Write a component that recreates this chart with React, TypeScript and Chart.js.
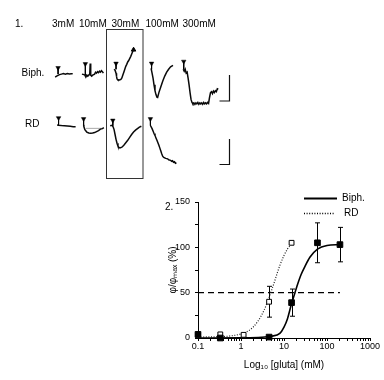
import React, { useEffect, useRef } from 'react';
import { Chart, registerables } from 'chart.js';
Chart.register(...registerables);

const FONT = "'Liberation Sans', Arial, Helvetica, sans-serif";

// ---------- Panel 2: dose-response ----------
const concBiph = [0.1, 0.33, 4.5, 15, 60, 200];
const respBiph = [4, 0, 1, 39, 105, 103];
const errBiph = [0, 0, 0, 15, 22, 19];

const concRD = [0.1, 0.33, 1.15, 4.5, 15];
const respRD = [3, 4, 3.5, 40, 105];
const errRD = [0, 0, 0, 17, 0];

const fitBiphX = [0.1, 1, 3, 5, 8, 10, 12, 15, 18, 20, 25, 30, 40, 60, 100, 200];
const fitBiphY = [0, 0.2, 0.8, 2, 5, 12, 21, 38, 50, 57, 70, 78, 89, 98, 102, 103];

const fitRDX = [0.1, 0.3, 0.5, 1, 1.5, 2, 3, 4, 5, 6, 7, 8, 10, 12, 15];
const fitRDY = [1, 1.5, 2, 4.5, 8, 13, 25, 38, 51, 62, 72, 80, 91, 98, 104];

const halfLevel = 50;
const halfRange = [0.1, 200];

const xDecades = [0.1, 1, 10, 100, 1000];
const yMin = 0;
const yMax = 150;
const yStep = 25;
const yLabelStep = 50;

const seriesNames = ['Biph.', 'RD'];

// ---------- Panel 1: traces ----------
const concLabels = ['3mM', '10mM', '30mM', '100mM', '300mM'];
const rowLabels = ['Biph.', 'RD'];

// [time offset, deflection (up = positive)]
const biph3mM = [[0.5,-4],[2,-3],[4,-2],[5,-1.5],[7,-1],[9,-0.5],[11,-1],[13,-0.3],[15,-0.8],[17,-0.5],[18.5,-0.7]];
const biph10mM = [[0,-1],[2,-1.5],[3,-2],[4,-4],[5,-2],[6,-3],[7,-2],[8,-1],[8.5,10],[9,-2],[10,-3],[11,-2],[13,-1],[14,1],[15,0],[16,1.5],[17,0.5],[18,2],[19,1],[20,2.5],[21,1.5],[22,0]];
const biph30mM = [[1,4],[2,3],[3,0],[3.5,-3],[4,-6],[5,-7],[6.5,-7],[8,-6.5],[9,-5],[10,-2],[11,1],[12,4],[13,7],[14,9],[15,11.5],[16,13],[17,15],[18,17],[19,19.5],[20,22],[21,24]];
const biph100mM = [[1,5],[2,0],[3,-5],[4,-12],[5,-18],[6,-22],[7,-24.7],[7.7,-25],[9,-20],[11,-14],[13,-8],[15,-3],[17,1],[19,4],[21,6.5],[23.5,8]];
const biph300mM = [[1,4],[2,2],[3,4],[4,0],[5,1],[6,-5],[7,-12],[8,-20],[9,-27],[10,-30],[11,-31.5],[12,-30.5],[13,-32],[14,-30.5],[15,-31.5],[16,-30],[17,-32],[18,-30.5],[19,-31.5],[20,-30.5],[21,-32],[22,-30],[23,-31.5],[24,-30.5],[25,-31.5],[26,-30],[27,-31],[28,-25],[29,-20],[30,-19],[31,-21],[32,-18.5],[33,-20],[34,-18],[35,-19],[36,-16],[37,-16.5]];
const rd3mM = [[2.5,0.7],[4,0.5],[7,0.2],[10,0],[13,-0.3],[16,-0.6],[19,-1],[21.5,-1]];
const rd10mM = [[1.7,1],[2,-1],[3,-4],[5,-6.5],[7,-7.5],[9,-7.7],[11,-7.5],[13,-7],[15,-6],[17,-5],[19,-3.5],[21,-3],[22.5,-2]];
const rd10mMBase = [[4,-2.7],[21,-2.7]];
const rd30mM = [[-3,0],[-1,0.5],[0,-1],[1,-4],[2,-9],[3,-14],[4,-18],[5,-21],[6,-22.3],[7,-22.7],[9,-22],[11,-20],[13,-17.5],[15,-15],[17,-12],[19,-9],[21,-6.5],[23,-4.5],[25,-3],[27,-1.5],[29,-0.5]];
const rd100mM = [[0.5,0],[1,-1],[2,-3],[3,-5.5],[4,-8],[5,-10],[6,-12.5],[7,-15],[8,-17.5],[9,-20],[10,-23],[11,-26],[12,-29],[13,-31.5],[14,-32.5],[16,-33.5],[18,-34],[19,-35],[21,-35.5],[22,-36.5],[23,-36],[24,-37.5],[25,-37],[26,-38.5],[27,-38]];

// [column, time, top deflection, bottom deflection]
const biphMarks = [[0,3.5,5.5,-1],[1,3.5,9.5,-2],[2,3,10,4],[3,1.5,10,4],[4,1.5,12,4]];
const rdMarks = [[0,4,8,0.7],[1,1.7,7,1],[2,-0.3,5.5,0],[3,0.3,7,0]];

// layout (panel 1)
const colX = [51, 79, 111, 149, 182];
const rowY = [70, 124];
const labelLeft = [52, 79, 111.5, 145.5, 182.5];

const isDecade = (v: number) => Math.abs(Math.log10(v) - Math.round(Math.log10(v))) < 1e-9;

function buildXTicks() {
  const t: { value: number }[] = [];
  for (let d = 0; d < xDecades.length - 1; d++) {
    for (let m = 1; m <= 9; m++) t.push({ value: +(xDecades[d] * m).toPrecision(6) });
  }
  t.push({ value: xDecades[xDecades.length - 1] });
  return t;
}

const errorBarPlugin = {
  id: 'errorBars',
  beforeDatasetsDraw(chart: any) {
    const { ctx } = chart;
    const xs = chart.scales.x, ys = chart.scales.y;
    const sets = [[concBiph, respBiph, errBiph], [concRD, respRD, errRD]];
    ctx.save();
    ctx.strokeStyle = '#000';
    ctx.lineWidth = 1;
    sets.forEach(([c, r, e]) => {
      c.forEach((cx: number, i: number) => {
        if (!e[i]) return;
        const x = Math.round(xs.getPixelForValue(cx)) + 0.5;
        const y1 = ys.getPixelForValue(r[i] + e[i]);
        const y2 = ys.getPixelForValue(r[i] - e[i]);
        ctx.beginPath();
        ctx.moveTo(x, y1); ctx.lineTo(x, y2);
        ctx.moveTo(x - 2.5, y1); ctx.lineTo(x + 2.5, y1);
        ctx.moveTo(x - 2.5, y2); ctx.lineTo(x + 2.5, y2);
        ctx.stroke();
      });
    });
    ctx.restore();
  },
};

const legendPlugin = {
  id: 'customLegend',
  afterDraw(chart: any) {
    const { ctx, chartArea: ca } = chart;
    ctx.save();
    ctx.font = `10px ${FONT}`;
    ctx.fillStyle = '#000';
    ctx.textBaseline = 'middle';
    ctx.textAlign = 'left';
    // Biph.
    ctx.strokeStyle = '#000';
    ctx.lineWidth = 2;
    ctx.setLineDash([]);
    ctx.beginPath();
    ctx.moveTo(ca.right - 66, ca.top - 3.5);
    ctx.lineTo(ca.right - 33, ca.top - 3.5);
    ctx.stroke();
    ctx.fillText(seriesNames[0], ca.right - 28, ca.top - 4);
    // RD
    ctx.lineWidth = 1.3;
    ctx.setLineDash([1, 1.6]);
    ctx.beginPath();
    ctx.moveTo(ca.right - 66, ca.top + 11.5);
    ctx.lineTo(ca.right - 35, ca.top + 11.5);
    ctx.stroke();
    ctx.setLineDash([]);
    ctx.fillText(seriesNames[1], ca.right - 26, ca.top + 11);
    // panel label
    ctx.fillText('2.', ca.left - 33, ca.top + 5);
    ctx.restore();
  },
};

const panel1Plugin = {
  id: 'panel1Decor',
  afterDraw(chart: any) {
    const { ctx } = chart;
    ctx.save();
    ctx.font = `10px ${FONT}`;
    ctx.fillStyle = '#000';
    ctx.textBaseline = 'middle';
    ctx.textAlign = 'left';
    ctx.fillText('1.', 15, 24);
    concLabels.forEach((l, i) => ctx.fillText(l, labelLeft[i], 24));
    ctx.fillText(rowLabels[0], 21.5, 73);
    ctx.fillText(rowLabels[1], 25, 124);
    // box around 30mM
    ctx.strokeStyle = '#333';
    ctx.lineWidth = 1;
    ctx.strokeRect(106.5, 29.5, 36.5, 149);
    // scale bars
    ctx.strokeStyle = '#111';
    ctx.lineWidth = 1.2;
    ctx.beginPath();
    ctx.moveTo(229.5, 75); ctx.lineTo(229.5, 101); ctx.lineTo(219.5, 101);
    ctx.moveTo(229.5, 139); ctx.lineTo(229.5, 164.5); ctx.lineTo(219.5, 164.5);
    ctx.stroke();
    ctx.restore();
  },
};

function traceSet(pts: number[][], col: number, row: number, color = '#0a0a0a', width = 1.5) {
  return {
    data: pts.map(([t, v]) => ({ x: colX[col] + t, y: rowY[row] - v })),
    borderColor: color,
    borderWidth: width,
    pointRadius: 0,
    tension: 0,
    clip: false as any,
  };
}

function markSet(m: number[], row: number) {
  const [col, t, top, bot] = m;
  return {
    data: [{ x: colX[col] + t, y: rowY[row] - top }, { x: colX[col] + t, y: rowY[row] - bot }],
    borderColor: '#000',
    borderWidth: 1,
    pointStyle: 'triangle',
    rotation: 180,
    pointRadius: [2.6, 0],
    pointBackgroundColor: '#000',
    pointBorderColor: '#000',
    pointBorderWidth: 0.5,
    clip: false as any,
  };
}

export default function App() {
  const topRef = useRef<HTMLCanvasElement>(null);
  const botRef = useRef<HTMLCanvasElement>(null);

  useEffect(() => {
    const topDatasets: any[] = [
      ...biphMarks.map((m) => markSet(m, 0)),
      ...rdMarks.map((m) => markSet(m, 1)),
      traceSet(biph3mM, 0, 0),
      traceSet(biph10mM, 1, 0),
      traceSet(biph30mM, 2, 0),
      traceSet(biph100mM, 3, 0),
      traceSet(biph300mM, 4, 0),
      traceSet(rd3mM, 0, 1),
      traceSet(rd10mM, 1, 1),
      traceSet(rd10mMBase, 1, 1, '#aaa', 1),
      traceSet(rd30mM, 2, 1),
      traceSet(rd100mM, 3, 1),
      {
        data: [{ x: colX[2] + biph30mM[biph30mM.length - 1][0], y: rowY[0] - biph30mM[biph30mM.length - 1][1] }],
        pointStyle: 'triangle',
        pointRadius: 2.6,
        pointBackgroundColor: '#000',
        pointBorderColor: '#000',
        showLine: false,
        clip: false,
      },
    ];

    const c1 = new Chart(topRef.current as HTMLCanvasElement, {
      type: 'line',
      data: { datasets: topDatasets },
      options: {
        responsive: false,
        animation: false,
        devicePixelRatio: 1,
        events: [],
        layout: { padding: 0 },
        plugins: { legend: { display: false }, tooltip: { enabled: false } },
        scales: {
          x: { type: 'linear', min: 0, max: 384, display: false },
          y: { type: 'linear', min: 0, max: 380, reverse: true, display: false },
        },
      } as any,
      plugins: [panel1Plugin],
    });

    const tickFont = { family: FONT, size: 9 };
    const c2 = new Chart(botRef.current as HTMLCanvasElement, {
      type: 'line',
      data: {
        datasets: [
          {
            label: 'Biph. data',
            data: concBiph.map((x, i) => ({ x, y: respBiph[i] })),
            showLine: false,
            pointStyle: 'rect',
            pointRadius: 4,
            pointBackgroundColor: '#000',
            pointBorderColor: '#000',
            pointBorderWidth: 1,
            clip: false,
          },
          {
            label: 'RD data',
            data: concRD.map((x, i) => ({ x, y: respRD[i] })),
            showLine: false,
            pointStyle: 'rect',
            pointRadius: 3.4,
            pointBackgroundColor: '#fff',
            pointBorderColor: '#000',
            pointBorderWidth: 1,
            clip: false,
          },
          {
            label: seriesNames[0],
            data: fitBiphX.map((x, i) => ({ x, y: fitBiphY[i] })),
            borderColor: '#000',
            borderWidth: 1.6,
            pointRadius: 0,
            cubicInterpolationMode: 'monotone',
            clip: false,
          },
          {
            label: seriesNames[1],
            data: fitRDX.map((x, i) => ({ x, y: fitRDY[i] })),
            borderColor: '#222',
            borderWidth: 1.2,
            borderDash: [1, 1.6],
            pointRadius: 0,
            cubicInterpolationMode: 'monotone',
            clip: false,
          },
          {
            label: 'half',
            data: halfRange.map((x) => ({ x, y: halfLevel })),
            borderColor: '#000',
            borderWidth: 1.4,
            borderDash: [6, 4],
            pointRadius: 0,
            clip: false,
          },
        ] as any,
      },
      options: {
        responsive: false,
        animation: false,
        devicePixelRatio: 1,
        events: [],
        layout: { padding: { left: 160, right: 14, top: 202, bottom: 0 } },
        plugins: { legend: { display: false }, tooltip: { enabled: false } },
        scales: {
          x: {
            type: 'logarithmic',
            min: xDecades[0],
            max: xDecades[xDecades.length - 1],
            afterBuildTicks: (s: any) => { s.ticks = buildXTicks(); },
            afterFit: (s: any) => { s.height = 42; },
            ticks: {
              autoSkip: false,
              maxRotation: 0,
              padding: 0,
              color: '#000',
              font: tickFont,
              callback: (v: any) => (isDecade(Number(v)) ? String(Number(v)) : ''),
            },
            grid: { drawOnChartArea: false, drawTicks: true, tickLength: 3, color: '#000', lineWidth: 1 },
            border: { display: true, color: '#000', width: 1 },
            title: {
              display: true,
              text: 'Log₁₀ [gluta] (mM)',
              color: '#000',
              font: { family: FONT, size: 10 },
              padding: { top: 0, bottom: 9 },
            },
          },
          y: {
            type: 'linear',
            min: yMin,
            max: yMax,
            afterFit: (s: any) => { s.width = 38; },
            ticks: {
              stepSize: yStep,
              padding: 5,
              color: '#000',
              font: tickFont,
              callback: (v: any) => (Number(v) % yLabelStep === 0 ? String(v) : ''),
            },
            grid: { drawOnChartArea: false, drawTicks: true, tickLength: 3, color: '#000', lineWidth: 1 },
            border: { display: true, color: '#000', width: 1 },
            title: {
              display: true,
              text: 'φ/φₘₐₓ (%)',
              color: '#000',
              font: { family: FONT, size: 10 },
              padding: { top: 7, bottom: 0 },
            },
          },
        },
      } as any,
      plugins: [errorBarPlugin, legendPlugin],
    });

    return () => {
      c1.destroy();
      c2.destroy();
    };
  }, []);

  const cs: React.CSSProperties = { position: 'absolute', left: 0, top: 0, width: 384, height: 380 };
  return (
    <div style={{ position: 'fixed', left: 0, top: 0, width: 384, height: 380, background: '#fff' }}>
      <canvas ref={botRef} width={384} height={380} style={cs} />
      <canvas ref={topRef} width={384} height={380} style={cs} />
    </div>
  );
}
